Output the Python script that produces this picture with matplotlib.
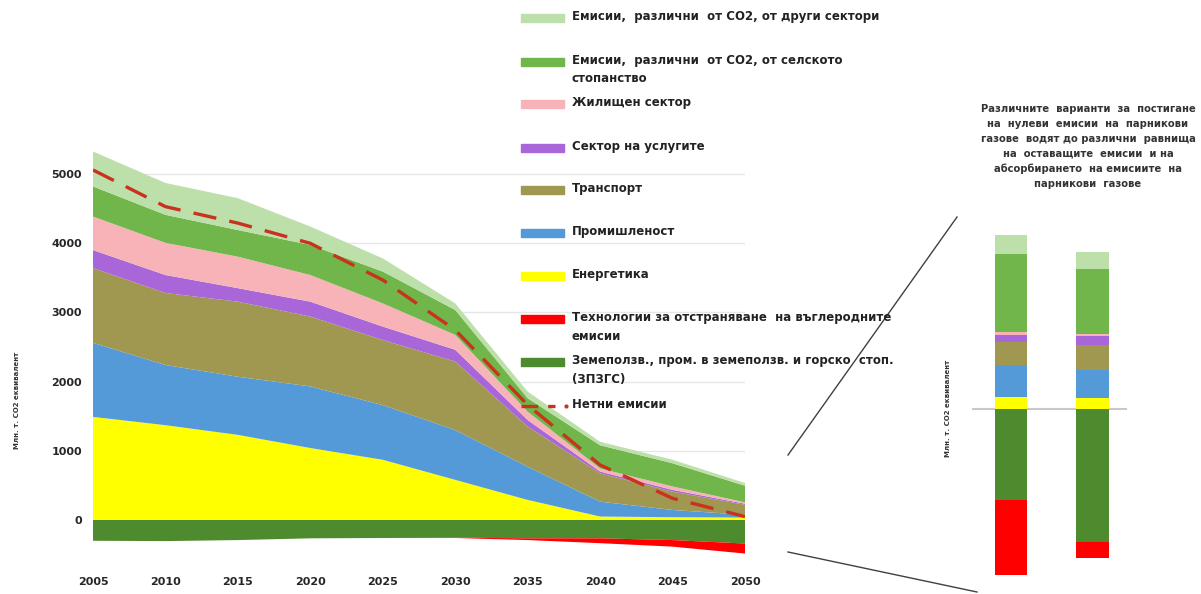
import matplotlib
matplotlib.use("Agg")
import matplotlib.pyplot as plt
from matplotlib.patches import Rectangle
from matplotlib.lines import Line2D

plt.rcParams['font.family'] = ['DejaVu Sans']

# ---- data (Mt CO2 eq.) ----
years = [2005, 2010, 2015, 2020, 2025, 2030, 2035, 2040, 2045, 2050]
energy      = [1490, 1370, 1230, 1040, 870, 580, 290, 50, 40, 35]
industry    = [1070, 870, 840, 890, 790, 720, 480, 215, 105, 40]
transport   = [1080, 1040, 1085, 1010, 940, 990, 580, 410, 265, 145]
services    = [260, 260, 195, 215, 195, 170, 95, 25, 25, 15]
residential = [485, 465, 455, 385, 335, 215, 120, 45, 50, 20]
agri_nonco2 = [435, 405, 385, 435, 460, 360, 195, 335, 335, 240]
other_nonco2 = [505, 460, 460, 265, 190, 95, 95, 50, 50, 40]
lulucf      = [-300, -305, -290, -265, -260, -255, -265, -265, -290, -340]
ccs         = [0, 0, 0, 0, 0, -5, -25, -70, -95, -145]
net         = [5058, 4528, 4290, 3998, 3468, 2746, 1662, 795, 313, 50]

# two 2050 variants (right panel)
bar_pos  = [1, 2]
b_energy = [35, 32]
b_industry = [95, 85]
b_transport = [70, 75]
b_services = [20, 25]
b_residential = [10, 7]
b_agri = [235, 195]
b_other = [55, 50]
b_lulucf = [-275, -400]
b_ccs = [-225, -50]

c_other = '#bddfa9'
c_agri = '#70b64a'
c_res = '#f7b3b8'
c_serv = '#a866d8'
c_trans = '#a09850'
c_ind = '#559ad8'
c_en = '#ffff00'
c_ccs = '#ff0000'
c_lulucf = '#4e8a2e'
c_net = '#c8321e'

legend_labels = [
    'Емисии,  различни  от СО2, от други сектори',
    'Емисии,  различни  от СО2, от селското\nстопанство',
    'Жилищен сектор',
    'Сектор на услугите',
    'Транспорт',
    'Промишленост',
    'Енергетика',
    'Технологии за отстраняване  на въглеродните\nемисии',
    'Земеползв., пром. в земеползв. и горско  стоп.\n(ЗПЗГС)',
    'Нетни емисии',
]
legend_colors = [c_other, c_agri, c_res, c_serv, c_trans, c_ind, c_en, c_ccs, c_lulucf, None]

W, H = 1201, 594
fig = plt.figure(figsize=(W / 100, H / 100), dpi=100)

# main chart
ax = fig.add_axes([93 / W, (H - 554.6) / H, (745 - 93) / W, 408.3 / H])
for g in range(1000, 6000, 1000):
    ax.axhline(g, color='#e6e6e6', lw=1, zorder=0)
ax.stackplot(years, energy, industry, transport, services, residential,
             agri_nonco2, other_nonco2,
             colors=[c_en, c_ind, c_trans, c_serv, c_res, c_agri, c_other], zorder=1)
ax.stackplot(years, lulucf, ccs, colors=[c_lulucf, c_ccs], zorder=1)
ax.plot(years, net, color=c_net, lw=2.4, dashes=(7, 4), zorder=3)
ax.set_xlim(2005, 2050)
ax.set_ylim(-500, 5400)
ax.set_xticks(range(2005, 2051, 5))
ax.set_yticks(range(0, 5001, 1000))
for s in ax.spines.values():
    s.set_visible(False)
ax.tick_params(length=0, labelsize=8, colors='#262626')
ax.tick_params(axis='x', pad=16)
ax.tick_params(axis='y', pad=8)
for t in ax.get_xticklabels() + ax.get_yticklabels():
    t.set_fontweight('bold')
fig.text(17 / W, 1 - 400 / H, 'Млн. т. СО2 еквивалент', rotation=90,
         ha='center', va='center', fontsize=5, fontweight='bold', color='#333333')

# legend, drawn by hand to keep the even spacing
ly = [18, 62, 104, 148, 190, 233, 276, 319, 362, 406]
for y, lab, col in zip(ly, legend_labels, legend_colors):
    if col is not None:
        fig.patches.append(Rectangle((521 / W, 1 - (y + 4) / H), 43 / W, 8 / H,
                                     transform=fig.transFigure, color=col))
    else:
        fig.lines.append(Line2D([521 / W, 555 / W], [1 - y / H] * 2, color=c_net,
                                lw=2.4, dashes=(5, 3), transform=fig.transFigure))
        fig.lines.append(Line2D([566 / W], [1 - y / H], marker='o', ms=2,
                                color=c_net, transform=fig.transFigure))
    fig.text(572 / W, 1 - (y - 8) / H, lab, ha='left', va='top', fontsize=8.5,
             fontweight='bold', color='#222222', linespacing=1.55)

# right panel
ax2 = fig.add_axes([972 / W, 4 / H, 155 / W, 390 / H])
ax2.axhline(0, color='#c8c8c8', lw=1.5, zorder=0)
pos_layers = [(b_energy, c_en), (b_industry, c_ind), (b_transport, c_trans),
              (b_services, c_serv), (b_residential, c_res), (b_agri, c_agri),
              (b_other, c_other)]
bottom = [0, 0]
for vals, col in pos_layers:
    ax2.bar(bar_pos, vals, bottom=bottom, width=0.4, color=col, zorder=2)
    bottom = [b + v for b, v in zip(bottom, vals)]
ax2.bar(bar_pos, b_lulucf, width=0.4, color=c_lulucf, zorder=2)
ax2.bar(bar_pos, b_ccs, bottom=b_lulucf, width=0.4, color=c_ccs, zorder=2)
ax2.set_xlim(0.52, 2.42)
ax2.set_ylim(-544.5, 625.5)
ax2.axis('off')
fig.text(948 / W, 1 - 408 / H, 'Млн. т. СО2 еквивалент', rotation=90,
         ha='center', va='center', fontsize=5, fontweight='bold', color='#333333')

title = ('Различните  варианти  за  постигане\n'
         'на  нулеви  емисии  на  парникови\n'
         'газове  водят до различни  равнища\n'
         'на  оставащите  емисии  и на\n'
         'абсорбирането  на емисиите  на\n'
         'парникови  газове')
fig.text(1088 / W, 1 - 104 / H, title, ha='center', va='top', fontsize=7.2,
         fontweight='bold', color='#333333', linespacing=1.6)

# zoom lines from main chart to the panel
fig.lines.append(Line2D([788 / W, 957 / W], [1 - 455 / H, 1 - 217 / H],
                        color='#404040', lw=1, transform=fig.transFigure))
fig.lines.append(Line2D([788 / W, 977 / W], [1 - 552 / H, 1 - 592 / H],
                        color='#404040', lw=1, transform=fig.transFigure))

fig.savefig('out.png', dpi=100)
